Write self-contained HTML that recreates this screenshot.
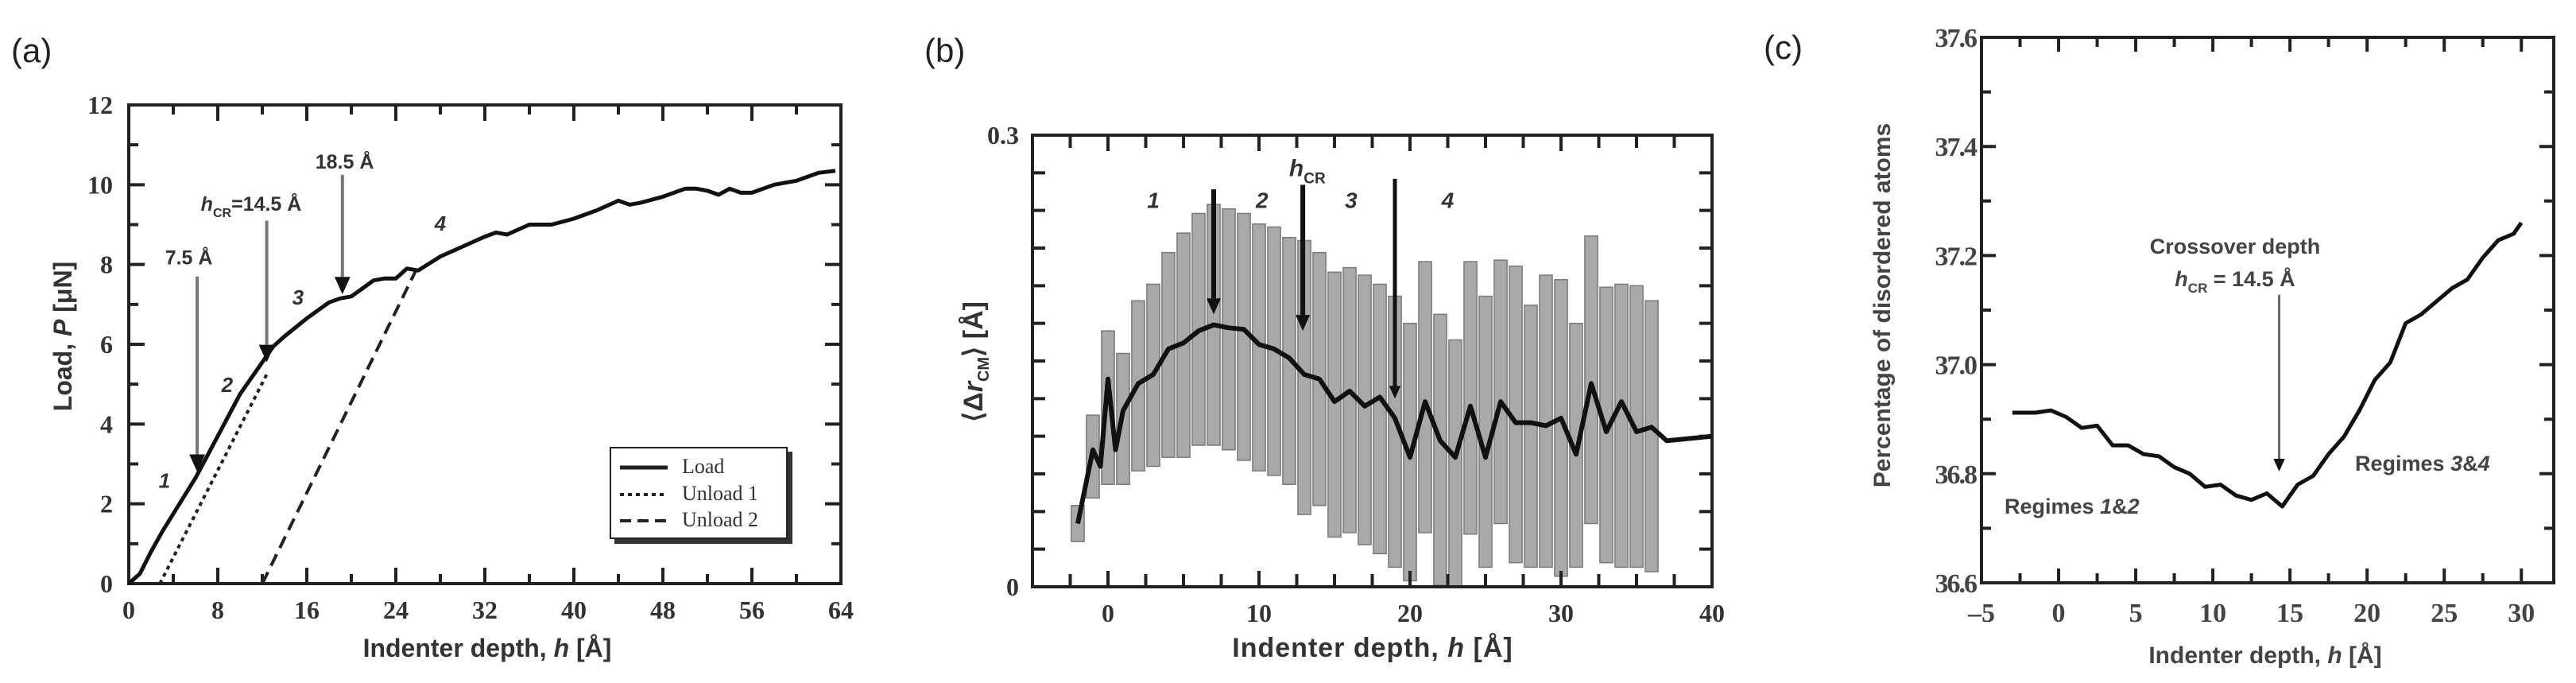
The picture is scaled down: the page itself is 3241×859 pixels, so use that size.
<!DOCTYPE html>
<html><head><meta charset="utf-8"><style>
html,body{margin:0;padding:0;background:#fff;}
svg{display:block;}
text{font-family:"Liberation Sans",sans-serif;}
.serif{font-family:"Liberation Serif",serif;}
</style></head>
<body>
<svg id="fig" width="3241" height="859" viewBox="0 0 3241 859" xmlns="http://www.w3.org/2000/svg">
<rect x="0" y="0" width="3241" height="859" fill="#fff"/>
<text x="14" y="78" font-size="42" fill="#222">(a)</text>
<text x="1163" y="78" font-size="42" fill="#222">(b)</text>
<text x="2219" y="74" font-size="42" fill="#222">(c)</text>
<g id="pa"></g>
<g id="pb"></g>
<g id="pc"></g>
</svg>
<script>
// ---------- Panel (a) data ----------
const loadH = [0,1,2,3,4,6,8,10,12,13,14,16,18,19,20,21,22,23,24,25,26,28,30,32,33,34,36,38,40,42,44,45,46,48,50,51,52,53,54,55,56,58,60,62,63.5];
const loadP = [0,0.25,0.8,1.3,1.75,2.65,3.7,4.75,5.55,5.95,6.2,6.65,7.05,7.15,7.2,7.4,7.6,7.65,7.65,7.9,7.85,8.2,8.45,8.7,8.8,8.75,9.0,9.0,9.15,9.35,9.6,9.5,9.55,9.7,9.9,9.9,9.85,9.75,9.9,9.8,9.8,10.0,10.1,10.3,10.35];
const unload1H = [2.8,12.5];
const unload1P = [0,5.3];
const unload2H = [12.0,25.8];
const unload2P = [0,7.85];
const aXTicks = [0,8,16,24,32,40,48,56,64];
const aYTicks = [0,2,4,6,8,10,12];

// ---------- Panel (b) data ----------
const bMeanH = [-2,-1,-0.5,0,0.5,1,2,3,4,5,6,7,8,9,10,11,12,13,14,15,16,17,18,19,20,21,22,23,24,25,26,27,28,29,30,31,32,33,34,35,36,37,40];
const bMean = [0.042,0.091,0.080,0.138,0.091,0.117,0.135,0.141,0.158,0.162,0.170,0.174,0.172,0.171,0.161,0.158,0.152,0.141,0.138,0.123,0.130,0.120,0.126,0.112,0.086,0.123,0.097,0.086,0.120,0.086,0.123,0.109,0.109,0.107,0.112,0.088,0.135,0.103,0.123,0.103,0.106,0.097,0.100];
const bBarH = [-2,-1,0,1,2,3,4,5,6,7,8,9,10,11,12,13,14,15,16,17,18,19,20,21,22,23,24,25,26,27,28,29,30,31,32,33,34,35,36];
const bUpper = [0.054,0.114,0.170,0.155,0.190,0.201,0.222,0.235,0.248,0.254,0.251,0.248,0.241,0.239,0.232,0.230,0.222,0.209,0.212,0.207,0.201,0.193,0.175,0.216,0.181,0.164,0.216,0.193,0.217,0.213,0.187,0.207,0.204,0.175,0.233,0.199,0.201,0.200,0.190];
const bLower = [0.030,0.059,0.068,0.068,0.077,0.080,0.086,0.086,0.094,0.094,0.091,0.084,0.077,0.074,0.068,0.048,0.054,0.033,0.036,0.028,0.022,0.013,0.004,0.036,0.001,0,0.035,0.013,0.042,0.016,0.013,0.013,0.007,0.013,0.042,0.016,0.013,0.013,0.010];
const bXTickLabels = [0,10,20,30,40];
const bYTickLabels = ["0","0.3"];

// ---------- Panel (c) data ----------
const cH = [-3,-1.5,-0.5,0.5,1.5,2.5,3.5,4.5,5.5,6.5,7.5,8.5,9.5,10.5,11.5,12.5,13.5,14.5,15.5,16.5,17.5,18.5,19.5,20.5,21.5,22.5,23.5,24.5,25.5,26.5,27.5,28.5,29.5,30];
const cPct = [36.912,36.912,36.916,36.904,36.884,36.888,36.852,36.852,36.836,36.832,36.812,36.800,36.776,36.780,36.760,36.752,36.764,36.740,36.780,36.796,36.836,36.868,36.916,36.972,37.004,37.076,37.092,37.116,37.140,37.156,37.196,37.228,37.240,37.260];
const cXTicks = [-5,0,5,10,15,20,25,30];
const cYTicks = [36.6,36.8,37.0,37.2,37.4,37.6];

const NS = "http://www.w3.org/2000/svg";
function mk(parent, tag, attrs, txt){
  const e = document.createElementNS(NS, tag);
  for (const k in attrs) e.setAttribute(k, attrs[k]);
  if (txt !== undefined) e.textContent = txt;
  parent.appendChild(e);
  return e;
}
function pathD(xs, ys, fx, fy){
  return xs.map((h,i)=>(i?"L":"M")+fx(h).toFixed(1)+","+fy(ys[i]).toFixed(1)).join("");
}
function frame(g, L, R, T, B, xMaj, xMin, yMaj, yMin, fx, fy, lenMaj, lenMin, w){
  let r = mk(g,"rect",{x:L,y:T,width:R-L,height:B-T,fill:"none",stroke:"#222","stroke-width":w});
  
  
  let d = "";
  xMaj.forEach(v=>{const x=fx(v); d+=`M${x},${B}v${-lenMaj}M${x},${T}v${lenMaj}`;});
  xMin.forEach(v=>{const x=fx(v); d+=`M${x},${B}v${-lenMin}M${x},${T}v${lenMin}`;});
  yMaj.forEach(v=>{const y=fy(v); d+=`M${L},${y}h${lenMaj}M${R},${y}h${-lenMaj}`;});
  yMin.forEach(v=>{const y=fy(v); d+=`M${L},${y}h${lenMin}M${R},${y}h${-lenMin}`;});
  let t = mk(g,"path",{d:d,stroke:"#222","stroke-width":w,fill:"none"});
  
  
}
function arrow(g, x, y1, y2, color, w, head){
  let l = mk(g,"line",{x1:x,y1:y1,x2:x,y2:y2-head,stroke:color,"stroke-width":w});
  
  
  let p = mk(g,"polygon",{points:`${x-head*0.45},${y2-head} ${x+head*0.45},${y2-head} ${x},${y2}`,fill:"#111"});
  
  
}
function range(a,b,s){const o=[];for(let v=a;v<=b+1e-9;v+=s)o.push(Math.round(v*1000)/1000);return o;}

// ================= Panel A =================
(function(){
  const g = document.getElementById("pa");
  const L=162,R=1058,T=132,B=734;
  const fx = h => L + h/64*(R-L);
  const fy = p => B - p/12*(B-T);
  frame(g,L,R,T,B,aXTicks,range(4,60,8),aYTicks,range(1,11,2),fx,fy,20,12,4);
  aXTicks.forEach(v=>{
    let t = mk(g,"text",{x:fx(v),y:778,"font-size":32,"text-anchor":"middle","font-weight":"bold",class:"serif",fill:"#333"},String(v));
    
    
  });
  aYTicks.forEach(v=>{
    let t = mk(g,"text",{x:142,y:fy(v)+11,"font-size":32,"text-anchor":"end","font-weight":"bold",class:"serif",fill:"#333"},String(v));
    
    
  });
  let xt = mk(g,"text",{x:613,y:826,"font-size":32,"font-weight":"bold","text-anchor":"middle",fill:"#333"});
  xt.innerHTML = 'Indenter depth, <tspan font-style="italic">h</tspan> [Å]';
  
  
  let yt = mk(g,"text",{x:0,y:0,"font-size":32,"font-weight":"bold","text-anchor":"middle",fill:"#333",transform:"translate(90,423) rotate(-90)"});
  yt.innerHTML = 'Load, <tspan font-style="italic">P</tspan> [μN]';
  
  

  let u2 = mk(g,"path",{d:pathD(unload2H,unload2P,fx,fy),fill:"none",stroke:"#222","stroke-width":4,"stroke-dasharray":"16,9"});
  
  
  let u1 = mk(g,"path",{d:pathD(unload1H,unload1P,fx,fy),fill:"none",stroke:"#222","stroke-width":4,"stroke-dasharray":"5,5"});
  
  
  let ld = mk(g,"path",{d:pathD(loadH,loadP,fx,fy),fill:"none",stroke:"#111","stroke-width":5,"stroke-linejoin":"round"});
  
  

  arrow(g,fx(6.15),fy(7.7),fy(2.8),"#777",4,22);
  arrow(g,fx(12.4),fy(9.1),fy(5.55),"#777",4,22);
  arrow(g,fx(19.2),fy(10.25),fy(7.25),"#777",4,22);
  const ann = [["7.5 Å",fx(5.4),fy(8.2)],["18.5 Å",fx(19.4),fy(10.6)]];
  ann.forEach(a=>{
    let t = mk(g,"text",{x:a[1],y:a[2]+10,"font-size":25,"font-weight":"bold","text-anchor":"middle",fill:"#333"},a[0]);
    
    
  });
  let hc = mk(g,"text",{x:fx(11),y:fy(9.55)+10,"font-size":25,"font-weight":"bold","text-anchor":"middle",fill:"#333"});
  hc.innerHTML = '<tspan font-style="italic">h</tspan><tspan font-size="16" dy="8">CR</tspan><tspan dy="-8">=14.5 Å</tspan>';
  
  
  [["1",3.2,2.6],["2",8.85,5.0],["3",15.2,7.2],["4",28,9.05]].forEach(r=>{
    let t = mk(g,"text",{x:fx(r[1]),y:fy(r[2])+10,"font-size":26,"font-weight":"bold","font-style":"italic","text-anchor":"middle",fill:"#333"},r[0]);
    
    
  });
  let sh = mk(g,"rect",{x:773,y:568,width:224,height:116,fill:"#333"});
  
  
  let lb = mk(g,"rect",{x:768,y:563,width:222,height:114,fill:"#fff",stroke:"#222","stroke-width":2});
  
  
  [["Load","none",5,595],["Unload 1","5,5",4,629],["Unload 2","14,8",4,662]].forEach(e=>{
    let l = mk(g,"line",{x1:780,y1:e[3]-7,x2:840,y2:e[3]-7,stroke:"#222","stroke-width":e[2],"stroke-dasharray":e[1]});
    
    
    let t = mk(g,"text",{x:858,y:e[3],"font-size":26,class:"serif",fill:"#333"},e[0]);
    
    
  });
})();

// ================= Panel B =================
(function(){
  const g = document.getElementById("pb");
  const L=1299,R=2154,T=170,B=738;
  const fx = h => L + (h+5)/45*(R-L);
  const fy = v => B - v/0.3*(B-T);
  const bw = (fx(1)-fx(0))*0.85;
  bBarH.forEach((h,i)=>{
    let r = mk(g,"rect",{x:fx(h)-bw/2,y:fy(bUpper[i]),width:bw,height:fy(bLower[i])-fy(bUpper[i]),fill:"#a9a9a9",stroke:"#7a7a7a","stroke-width":1.5});
    
    
  });
  frame(g,L,R,T,B,range(0,40,10),range(-2.5,37.5,2.5).filter(v=>v%10!==0),[0,0.3],range(0.025,0.275,0.025),fx,fy,20,16,4);
  let ml = mk(g,"path",{d:pathD(bMeanH,bMean,fx,fy),fill:"none",stroke:"#111","stroke-width":6,"stroke-linejoin":"round"});
  
  
  bXTickLabels.forEach(v=>{
    let t = mk(g,"text",{x:fx(v),y:782,"font-size":32,"text-anchor":"middle","font-weight":"bold",class:"serif",fill:"#333"},String(v));
    
    
  });
  [[0,bYTickLabels[0]],[0.3,bYTickLabels[1]]].forEach(p=>{
    let t = mk(g,"text",{x:1282,y:fy(p[0])+11,"font-size":32,"text-anchor":"end","font-weight":"bold",class:"serif",fill:"#333"},p[1]);
    
    
  });
  let xt = mk(g,"text",{x:1727,y:826,"font-size":34,"font-weight":"bold","text-anchor":"middle",fill:"#333","letter-spacing":"1"});
  xt.innerHTML = 'Indenter depth, <tspan font-style="italic">h</tspan> [Å]';
  
  
  let yt = mk(g,"text",{x:0,y:0,"font-size":34,"font-weight":"bold","text-anchor":"middle",fill:"#333",transform:"translate(1236,455) rotate(-90)"});
  yt.innerHTML = '⟨Δ<tspan font-style="italic">r</tspan><tspan font-size="20" dy="8">CM</tspan><tspan dy="-8">⟩ [Å]</tspan>';
  
  
  arrow(g,fx(7),fy(0.264),fy(0.181),"#111",6,20);
  arrow(g,fx(12.9),fy(0.267),fy(0.170),"#111",6,20);
  arrow(g,fx(19),fy(0.271),fy(0.125),"#111",5,16);
  let hc = mk(g,"text",{x:fx(13.2),y:fy(0.277)+8,"font-size":30,"font-weight":"bold","text-anchor":"middle",fill:"#333"});
  hc.innerHTML = '<tspan font-style="italic">h</tspan><tspan font-size="19" dy="9">CR</tspan>';
  
  
  [["1",3,0.257],["2",10.2,0.257],["3",16.1,0.257],["4",22.5,0.257]].forEach(r=>{
    let t = mk(g,"text",{x:fx(r[1]),y:fy(r[2])+10,"font-size":28,"font-weight":"bold","font-style":"italic","text-anchor":"middle",fill:"#333"},r[0]);
    
    
  });
})();

// ================= Panel C =================
(function(){
  const g = document.getElementById("pc");
  const L=2493,R=3213,T=47,B=733;
  const fx = h => L + (h+5)/37.1*(R-L);
  const fy = v => B - (v-36.6)/1.0*(B-T);
  frame(g,L,R,T,B,cXTicks,range(-2.5,27.5,5),cYTicks,range(36.7,37.5,0.2),fx,fy,18,12,4);
  cXTicks.forEach(v=>{
    let t = mk(g,"text",{x:fx(v),y:782,"font-size":34,"text-anchor":"middle",class:"serif",fill:"#444","font-weight":"bold"},v<0?"–"+Math.abs(v):String(v));
    
    
  });
  cYTicks.forEach(v=>{
    let t = mk(g,"text",{x:2486,y:fy(v)+12,"font-size":34,"text-anchor":"end",class:"serif",fill:"#444","font-weight":"bold","letter-spacing":"-2"},v.toFixed(1));
    
    
  });
  let xt = mk(g,"text",{x:2850,y:834,"font-size":30,"font-weight":"bold","text-anchor":"middle",fill:"#444"});
  xt.innerHTML = 'Indenter depth, <tspan font-style="italic">h</tspan> [Å]';
  
  
  let yt = mk(g,"text",{x:0,y:0,"font-size":30,"font-weight":"bold","text-anchor":"middle",fill:"#444",transform:"translate(2378,384) rotate(-90)"},"Percentage of disordered atoms");
  
  
  let cl = mk(g,"path",{d:pathD(cH,cPct,fx,fy),fill:"none",stroke:"#111","stroke-width":5,"stroke-linejoin":"round"});
  
  
  arrow(g,fx(14.3),fy(37.128),fy(36.804),"#666",3,16);
  let t1 = mk(g,"text",{x:2812,y:319,"font-size":27,"font-weight":"bold","text-anchor":"middle",fill:"#444"},"Crossover depth");
  
  
  let t2 = mk(g,"text",{x:2812,y:360,"font-size":27,"font-weight":"bold","text-anchor":"middle",fill:"#444"});
  t2.innerHTML = '<tspan font-style="italic">h</tspan><tspan font-size="17" dy="8">CR</tspan><tspan dy="-8"> = 14.5 Å</tspan>';
  
  
  let r1 = mk(g,"text",{x:2522,y:646,"font-size":27,"font-weight":"bold",fill:"#444"});
  r1.innerHTML = 'Regimes <tspan font-style="italic">1</tspan>&amp;<tspan font-style="italic">2</tspan>';
  
  
  let r2 = mk(g,"text",{x:2963,y:592,"font-size":27,"font-weight":"bold",fill:"#444"});
  r2.innerHTML = 'Regimes <tspan font-style="italic">3</tspan>&amp;<tspan font-style="italic">4</tspan>';
  
  
})();
</script>
</body></html>
